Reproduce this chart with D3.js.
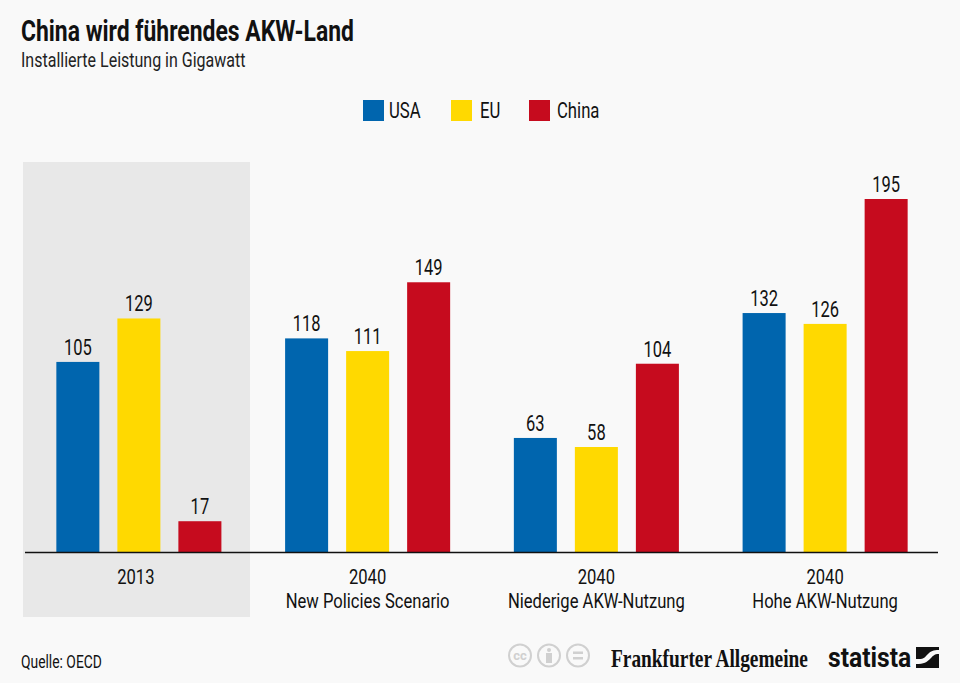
<!DOCTYPE html>
<html>
<head>
<meta charset="utf-8">
<script src="https://cdn.jsdelivr.net/npm/d3@7"></script>
<style>
html, body { margin: 0; padding: 0; background: #f9f9f9; }
svg { display: block; }
text { font-family: "Roboto", sans-serif; fill: #111; }
</style>
</head>
<body>
<svg width="960" height="683"></svg>
<script>
var groups = ["2013", "new", "low", "high"];
var groupLine1 = ["2013", "2040", "2040", "2040"];
var groupLine2 = ["", "New Policies Scenario", "Niederige AKW-Nutzung", "Hohe AKW-Nutzung"];
var seriesNames = ["USA", "EU", "China"];
var seriesColors = ["#0065ae", "#ffd900", "#c60b1e"];
var usa = [105, 118, 63, 132];
var eu = [129, 111, 58, 126];
var china = [17, 149, 104, 195];

var svg = d3.select("svg");
var baseline = 552;

var x0 = d3.scaleBand().domain(groups).range([24.5, 939.5]);
var x1 = d3.scaleBand().domain(seriesNames).range([0, x0.bandwidth()])
    .paddingInner(0.295).paddingOuter(0.522);
var y = d3.scaleLinear().domain([0, 195]).range([baseline, 199]);
var color = d3.scaleOrdinal(seriesNames, seriesColors);

// the original type is a condensed face, none is installed, so squeeze it
function squeeze(sel, px, py, s) {
    sel.attr("transform", function (d, i) {
        var xx = typeof px === "function" ? px(d, i) : px;
        var yy = typeof py === "function" ? py(d, i) : py;
        return "translate(" + xx + "," + yy + ") scale(" + s + ",1)";
    });
}

// grey box behind 2013
svg.append("rect")
    .attr("x", 23).attr("y", 162)
    .attr("width", 227).attr("height", 455)
    .attr("fill", "#e8e8e8");

svg.append("text")
    .attr("font-size", "29px").attr("font-weight", "bold")
    .text("China wird führendes AKW-Land")
    .call(squeeze, 21, 41, 0.79);

svg.append("text")
    .attr("font-size", "20px")
    .style("fill", "#222")
    .text("Installierte Leistung in Gigawatt")
    .call(squeeze, 21, 67, 0.8);

// legend
var legendX = [363, 451, 529];
var legendTextX = [389, 480, 557];
var legend = svg.selectAll(".legend")
    .data(seriesNames)
    .enter()
    .append("g")
    .attr("class", "legend");

legend.append("rect")
    .attr("x", function (d, i) { return legendX[i]; })
    .attr("y", 100)
    .attr("width", 21).attr("height", 21)
    .attr("fill", function (d) { return color(d); });

legend.append("text")
    .attr("font-size", "22px")
    .text(function (d) { return d; })
    .call(squeeze, function (d, i) { return legendTextX[i]; }, 118, 0.76);

// bars
var rows = groups.map(function (g, i) {
    return [
        { group: g, name: "USA", value: usa[i] },
        { group: g, name: "EU", value: eu[i] },
        { group: g, name: "China", value: china[i] }
    ];
});

var g = svg.selectAll(".group")
    .data(rows)
    .enter()
    .append("g")
    .attr("class", "group")
    .attr("transform", function (d) { return "translate(" + x0(d[0].group) + ",0)"; });

g.selectAll("rect")
    .data(function (d) { return d; })
    .enter()
    .append("rect")
    .attr("x", function (d) { return x1(d.name); })
    .attr("y", function (d) { return y(d.value); })
    .attr("width", x1.bandwidth())
    .attr("height", function (d) { return baseline - y(d.value); })
    .attr("fill", function (d) { return color(d.name); });

g.selectAll("text")
    .data(function (d) { return d; })
    .enter()
    .append("text")
    .attr("text-anchor", "middle")
    .attr("font-size", "22px")
    .text(function (d) { return d.value; })
    .call(squeeze,
        function (d) { return x1(d.name) + x1.bandwidth() / 2; },
        function (d) { return y(d.value) - 7; },
        0.75);

// axis line
svg.append("line")
    .attr("x1", 25).attr("x2", 938)
    .attr("y1", baseline + 0.5).attr("y2", baseline + 0.5)
    .attr("stroke", "#111").attr("stroke-width", 1.5);

// category labels, 2013 sits in the middle of its grey box
var labels = svg.selectAll(".cat")
    .data(groups)
    .enter()
    .append("g")
    .attr("class", "cat")
    .attr("transform", function (d, i) {
        return "translate(" + (x0(d) + x0.bandwidth() / 2 + (i === 0 ? -3 : 0)) + ",0)";
    });

labels.append("text")
    .attr("text-anchor", "middle")
    .attr("font-size", "20px")
    .text(function (d, i) { return groupLine1[i]; })
    .call(squeeze, 0, 584, 0.83);

labels.append("text")
    .attr("text-anchor", "middle")
    .attr("font-size", "20px")
    .text(function (d, i) { return groupLine2[i]; })
    .call(squeeze, 0, 608, 0.83);

// footer
svg.append("text")
    .attr("font-size", "18px")
    .text("Quelle: OECD")
    .call(squeeze, 21, 668, 0.77);

// licence icons
var iconGrey = "#d0d0d0";
var cc = svg.append("g").attr("fill", "none").attr("stroke", iconGrey).attr("stroke-width", 2);
[520, 549, 578].forEach(function (cx) {
    cc.append("circle").attr("cx", cx).attr("cy", 655.5).attr("r", 11);
});
svg.append("text")
    .attr("x", 520).attr("y", 660)
    .attr("text-anchor", "middle")
    .attr("font-size", "13px").attr("font-weight", "bold")
    .style("fill", iconGrey)
    .text("cc");
svg.append("circle").attr("cx", 549).attr("cy", 650).attr("r", 2).attr("fill", iconGrey);
svg.append("rect").attr("x", 546).attr("y", 653).attr("width", 6).attr("height", 10).attr("fill", iconGrey);
svg.append("rect").attr("x", 573).attr("y", 651.5).attr("width", 10).attr("height", 2.5).attr("fill", iconGrey);
svg.append("rect").attr("x", 573).attr("y", 657).attr("width", 10).attr("height", 2.5).attr("fill", iconGrey);

svg.append("text")
    .attr("font-size", "26px").attr("font-weight", "bold")
    .style("font-family", "'Liberation Serif', serif")
    .text("Frankfurter Allgemeine")
    .call(squeeze, 611, 667, 0.745);

svg.append("text")
    .attr("font-size", "28px").attr("font-weight", "bold")
    .text("statista")
    .call(squeeze, 828, 667, 0.88);

// statista mark
svg.append("rect")
    .attr("x", 916).attr("y", 647)
    .attr("width", 23).attr("height", 21)
    .attr("fill", "#111");
svg.append("path")
    .attr("d", "M916 659h3c5 0 6-2 9-5s5-4 11-4v4c-5 0-6 2-9 5s-6 5-14 5h0z")
    .attr("fill", "#f9f9f9");
</script>
</body>
</html>
